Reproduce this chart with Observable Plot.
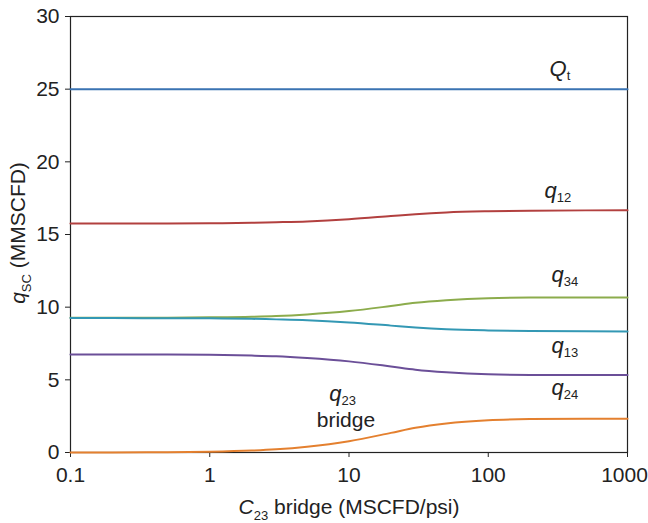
<!DOCTYPE html>
<html><head><meta charset="utf-8">
<script src="https://cdn.jsdelivr.net/npm/d3@7"></script>
<script src="https://cdn.jsdelivr.net/npm/@observablehq/plot@0.6"></script>
<style>
body{margin:0;background:#fff;font-family:"Liberation Sans",Arial,sans-serif;}
</style></head>
<body><div id="chart"></div>
<script>
const cValues = [0.1, 0.2, 0.5, 1, 2, 3, 5, 10, 20, 30, 50, 100, 200, 500, 1000];
const Qt  = [25, 25, 25, 25, 25, 25, 25, 25, 25, 25, 25, 25, 25, 25, 25];
const q12 = [15.75, 15.75, 15.76, 15.77, 15.8, 15.84, 15.9, 16.05, 16.27, 16.4, 16.52, 16.6, 16.64, 16.66, 16.67];
const q34 = [9.27, 9.27, 9.28, 9.3, 9.34, 9.39, 9.5, 9.73, 10.08, 10.3, 10.48, 10.62, 10.66, 10.67, 10.67];
const q13 = [9.25, 9.25, 9.24, 9.23, 9.2, 9.16, 9.1, 8.95, 8.73, 8.6, 8.48, 8.4, 8.36, 8.34, 8.33];
const q24 = [6.75, 6.745, 6.74, 6.72, 6.67, 6.62, 6.5, 6.27, 5.92, 5.7, 5.52, 5.38, 5.34, 5.33, 5.33];
const q23 = [0, 0.005, 0.02, 0.05, 0.13, 0.22, 0.4, 0.78, 1.35, 1.7, 2.0, 2.22, 2.3, 2.33, 2.33];

const seriesNames = ["Qt", "q12", "q34", "q13", "q24", "q23"];
const seriesValues = [Qt, q12, q34, q13, q24, q23];
const seriesColors = ["#3a73b2", "#b2403f", "#8cac4c", "#3398b4", "#6b4f98", "#e4802f"];

const xTicks = [0.1, 1, 10, 100, 1000];
const xTickLabels = ["0.1", "1", "10", "100", "1000"];
const yTicks = [0, 5, 10, 15, 20, 25, 30];

const labelMain = ["Q", "q", "q", "q", "q", "q"];
const labelSub  = ["t", "12", "34", "13", "24", "23"];
const labelX    = [360, 305, 343, 343, 343, 8.7];
const labelY    = [26.4, 18.0, 12.2, 7.36, 4.47, 4.06];
const extraText = ["bridge"];
const extraX = [9.5];
const extraY = [2.2];

const rows = [];
seriesNames.forEach((s, i) => cValues.forEach((c, j) => rows.push({series: s, c, q: seriesValues[i][j]})));
const labels = labelMain.map((m, i) => ({m, s: labelSub[i], x: labelX[i], y: labelY[i]}));
const extras = extraText.map((t, i) => ({t, x: extraX[i], y: extraY[i]}));

const font = "Liberation Sans, Arial, sans-serif";
const plot = Plot.plot({
  width: 648, height: 523,
  marginLeft: 70, marginRight: 21, marginTop: 16, marginBottom: 71,
  style: {fontFamily: font, fontSize: "21px", color: "#222", background: "#fff"},
  x: {type: "log", domain: [0.1, 1000], ticks: xTicks, tickFormat: d => xTickLabels[xTicks.indexOf(d)], label: null, tickSize: 5, tickPadding: 10},
  y: {domain: [0, 30], ticks: yTicks, label: null, tickSize: 5, tickPadding: 6},
  color: {domain: seriesNames, range: seriesColors},
  marks: [
    Plot.frame({stroke: "#222", strokeWidth: 1.2}),
    Plot.line(rows, {x: "c", y: "q", z: "series", stroke: "series", strokeWidth: 2, curve: "monotone-x"}),
    Plot.text(labels, {x: "x", y: "y", text: "m", textAnchor: "end", dx: 1, fontSize: 22, fontStyle: "italic", fill: "#222"}),
    Plot.text(labels, {x: "x", y: "y", text: "s", textAnchor: "start", dx: 1, dy: 7, fontSize: 13, fontStyle: (d) => d.s === "t" ? "italic" : "normal", fill: "#222"}),
    Plot.text(extras, {x: "x", y: "y", text: "t", fontSize: 21, fill: "#222"})
  ]
});
document.getElementById("chart").appendChild(plot);

const svg = d3.select(plot);
// keep the last x tick label inside the picture
svg.selectAll("g[aria-label='x-axis tick label'] text").filter(function() { return this.textContent === "1000"; })
  .attr("dx", -3);
// x axis label
const xl = svg.append("text").attr("x", 349).attr("y", 514).attr("text-anchor", "middle")
  .attr("font-size", 21).attr("fill", "#222").attr("font-family", font);
xl.append("tspan").attr("font-style", "italic").text("C");
xl.append("tspan").attr("font-size", 13).attr("dy", 6).text("23");
xl.append("tspan").attr("dy", -6).text(" bridge (MSCFD/psi)");
// y axis label
const yl = svg.append("text").attr("transform", "translate(25,233) rotate(-90)").attr("text-anchor", "middle")
  .attr("font-size", 21).attr("fill", "#222").attr("font-family", font);
yl.append("tspan").attr("font-style", "italic").text("q");
yl.append("tspan").attr("font-size", 13).attr("dy", 6).text("SC");
yl.append("tspan").attr("dy", -6).text(" (MMSCFD)");
</script>
</body></html>
